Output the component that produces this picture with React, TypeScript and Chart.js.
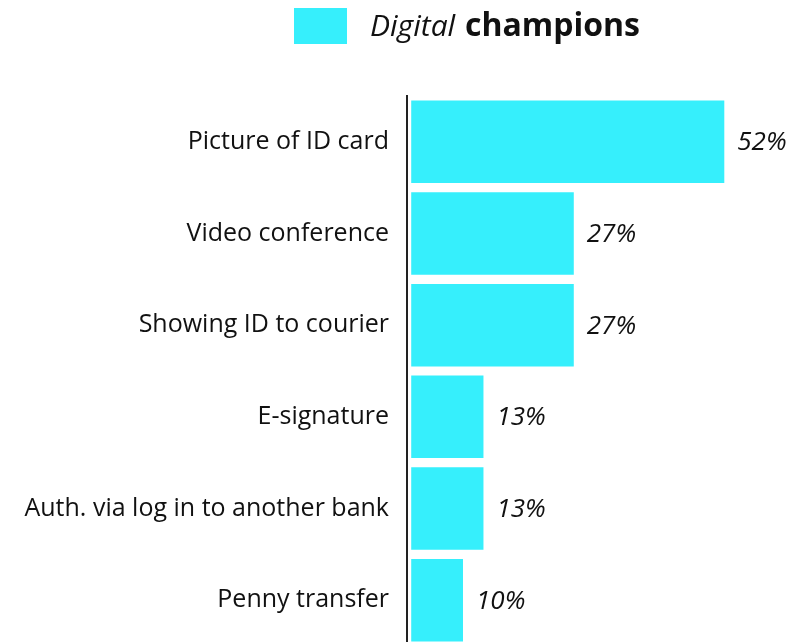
import React, { useEffect, useRef } from "react";
import { Chart, registerables } from "chart.js";

Chart.register(...registerables);

const categories = [
  "Picture of ID card",
  "Video conference",
  "Showing ID to courier",
  "E-signature",
  "Auth. via log in to another bank",
  "Penny transfer",
];
const values = [52, 27, 27, 12, 12, 8.6];
const valueLabels = ["52%", "27%", "27%", "13%", "13%", "10%"];
const seriesName = ["Digital", "champions"];

const BAR_COLOR = "#36EFFC";
const TEXT_COLOR = "#111111";
const FONT = "'Open Sans', sans-serif";

const legendPlugin = {
  id: "customLegend",
  afterDraw(chart: any) {
    const ctx = chart.ctx;
    ctx.save();
    ctx.fillStyle = BAR_COLOR;
    ctx.fillRect(294, 8, 53, 36);
    ctx.fillStyle = TEXT_COLOR;
    ctx.textBaseline = "alphabetic";
    ctx.textAlign = "left";
    ctx.font = `italic 400 30px ${FONT}`;
    const x0 = 370;
    ctx.fillText(seriesName[0], x0, 36);
    const w = ctx.measureText(seriesName[0] + " ").width;
    ctx.font = `700 32px ${FONT}`;
    ctx.fillText(seriesName[1], x0 + w + 2, 36);
    ctx.restore();
  },
};

const valueLabelPlugin = {
  id: "valueLabels",
  afterDatasetsDraw(chart: any) {
    const ctx = chart.ctx;
    const meta = chart.getDatasetMeta(0);
    ctx.save();
    ctx.fillStyle = TEXT_COLOR;
    ctx.font = `italic 400 26px ${FONT}`;
    ctx.textAlign = "left";
    ctx.textBaseline = "middle";
    meta.data.forEach((bar: any, i: number) => {
      ctx.fillText(valueLabels[i], bar.x + 13, bar.y + 1);
    });
    ctx.restore();
  },
};

export default function App() {
  const ref = useRef<HTMLCanvasElement | null>(null);
  useEffect(() => {
    if (!ref.current) return;
    const chart = new Chart(ref.current, {
      type: "bar",
      data: {
        labels: categories,
        datasets: [
          {
            label: seriesName.join(" "),
            data: values,
            backgroundColor: BAR_COLOR,
            borderWidth: 0,
            categoryPercentage: 1,
            barPercentage: 0.9,
          },
        ],
      },
      options: {
        indexAxis: "y",
        responsive: false,
        animation: false,
        layout: { padding: { top: 96, bottom: 0, left: 0, right: 0 } },
        plugins: {
          legend: { display: false },
          tooltip: { enabled: false },
        },
        scales: {
          x: {
            display: false,
            min: -0.7,
            max: 66.4,
          },
          y: {
            afterFit: (s: any) => {
              s.width = 407;
            },
            grid: { display: false, drawTicks: false },
            border: { display: true, color: "#222222", width: 2 },
            ticks: {
              color: TEXT_COLOR,
              padding: 18,
              font: { family: FONT, size: 25, weight: "normal" },
            },
          },
        },
      },
      plugins: [legendPlugin, valueLabelPlugin],
    });
    return () => chart.destroy();
  }, []);

  return (
    <div
      style={{
        position: "fixed",
        left: 0,
        top: 0,
        width: 811,
        height: 642,
        overflow: "hidden",
        background: "#ffffff",
      }}
    >
      <canvas ref={ref} width={811} height={679} style={{ display: "block" }} />
    </div>
  );
}
